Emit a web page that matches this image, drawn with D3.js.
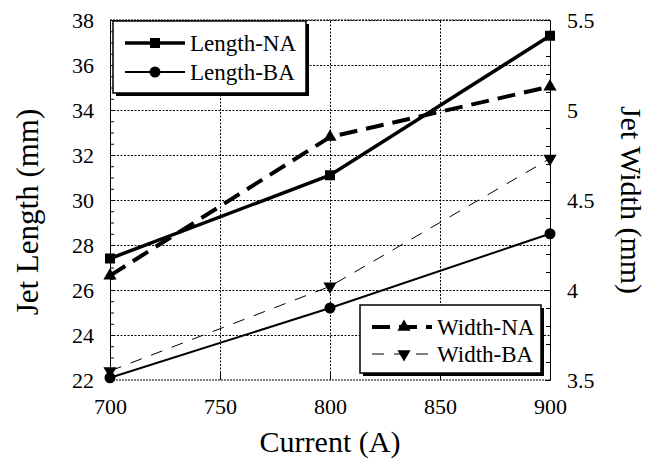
<!DOCTYPE html>
<html>
<head>
<meta charset="utf-8">
<script src="https://cdn.jsdelivr.net/npm/d3@7"></script>
<style>
  body { margin: 0; background: #fff; }
  svg { display: block; }
  svg text { font-family: "Liberation Serif", "Times New Roman", serif; }
</style>
</head>
<body>
<div class="chart-div"></div>
<script>
var width = 649;
var height = 459;

// data
var current = [700, 800, 900];
var lengthNA = [27.4, 31.1, 37.3];
var lengthBA = [22.1, 25.2, 28.5];
var widthNA = [4.08, 4.85, 5.13];
var widthBA = [3.55, 4.02, 4.73];

var xTicks = [700, 750, 800, 850, 900];
var leftTicks = [22, 24, 26, 28, 30, 32, 34, 36, 38];
var rightTicks = [3.5, 4, 4.5, 5, 5.5];

var font = "Liberation Serif, Times New Roman, serif";

var m = { left: 110, right: 550, top: 20, bottom: 380 };

var svg = d3.select("div.chart-div")
    .append("svg")
    .attr("width", width)
    .attr("height", height)

var x = d3.scaleLinear().domain([700, 900]).range([m.left, m.right]);
var yL = d3.scaleLinear().domain([22, 38]).range([m.bottom, m.top]);
var yR = d3.scaleLinear().domain([3.5, 5.5]).range([m.bottom, m.top]);

var plotW = m.right - m.left;
var plotH = m.bottom - m.top;

//----------------------------- grid

var grid = svg.append("g")

grid.append("g")
    .attr("transform", "translate(" + m.left + ",0)")
    .call(d3.axisLeft(yL).tickValues(leftTicks.slice(1)).tickSize(-plotW).tickFormat(""))
    .call(function (g) { g.select(".domain").remove(); })
    .selectAll("line")
    .attr("stroke", "#000")
    .style("stroke-dasharray", "2,1.5")

grid.append("g")
    .attr("transform", "translate(0," + m.bottom + ")")
    .call(d3.axisBottom(x).tickValues([750, 800, 850]).tickSize(-plotH).tickFormat(""))
    .call(function (g) { g.select(".domain").remove(); })
    .selectAll("line")
    .attr("stroke", "#000")
    .style("stroke-dasharray", "2,1.5")

// bottom frame line, dotted like the grid
grid.append("line")
    .attr("x1", m.left).attr("x2", m.right)
    .attr("y1", m.bottom).attr("y2", m.bottom)
    .attr("stroke", "#000")
    .style("stroke-dasharray", "2,1")

//----------------------------- axes

function styleAxis(g) {
    g.attr("font-family", null)
    g.selectAll("text")
        .style("font-family", font)
        .style("font-size", "22px")
        .style("fill", "#000")
    g.selectAll("line").attr("stroke", "#000")
    g.select(".domain").attr("stroke", "#000")
}

// left
svg.append("g")
    .attr("transform", "translate(" + m.left + ",0)")
    .call(d3.axisLeft(yL).tickValues(d3.range(22, 38.01, 0.5)).tickSize(-4).tickFormat("").tickSizeOuter(0))
    .call(styleAxis)
svg.append("g")
    .attr("transform", "translate(" + m.left + ",0)")
    .call(d3.axisLeft(yL).tickValues(leftTicks).tickSize(-4).tickPadding(16).tickSizeOuter(0).tickFormat(d3.format("d")))
    .call(styleAxis)

// right
svg.append("g")
    .attr("transform", "translate(" + m.right + ",0)")
    .call(d3.axisRight(yR).tickValues(d3.range(3.5, 5.501, 0.1)).tickSize(-4).tickFormat("").tickSizeOuter(0))
    .call(styleAxis)
svg.append("g")
    .attr("transform", "translate(" + m.right + ",0)")
    .call(d3.axisRight(yR).tickValues(rightTicks).tickSize(-5).tickPadding(17).tickSizeOuter(0).tickFormat(function (d) { return d3.format("")(d); }))
    .call(styleAxis)

// bottom
var xa = svg.append("g")
    .attr("transform", "translate(0," + m.bottom + ")")
    .call(d3.axisBottom(x).tickValues(xTicks).tickSize(-8).tickPadding(18).tickSizeOuter(0))
    .call(styleAxis)
xa.select(".domain").remove()

// top frame line
svg.append("line")
    .attr("x1", m.left).attr("x2", m.right)
    .attr("y1", m.top).attr("y2", m.top)
    .attr("stroke", "#000")
    .style("stroke-dasharray", "2,1")

//----------------------------- titles

svg.append("text")
    .attr("transform", "translate(27," + 212 + ") rotate(-90)")
    .attr("text-anchor", "middle")
    .attr("dominant-baseline", "central")
    .style("font-size", "31px")
    .text("Jet Length (mm)")

svg.append("text")
    .attr("transform", "translate(631," + 200 + ") rotate(90)")
    .attr("text-anchor", "middle")
    .attr("dominant-baseline", "central")
    .style("font-size", "30px")
    .text("Jet Width (mm)")

svg.append("text")
    .attr("x", (m.left + m.right) / 2)
    .attr("y", 452)
    .attr("text-anchor", "middle")
    .style("font-size", "30px")
    .text("Current (A)")

//----------------------------- series

var series = [
    { name: "Length-NA", vals: lengthNA, y: yL, width: 3.5, dash: null, marker: "square" },
    { name: "Length-BA", vals: lengthBA, y: yL, width: 2, dash: null, marker: "circle" },
    { name: "Width-NA", vals: widthNA, y: yR, width: 4, dash: "18,9", marker: "up" },
    { name: "Width-BA", vals: widthBA, y: yR, width: 1, dash: "12,10", marker: "down" }
];

function drawMarker(g, type, cx, cy) {
    if (type == "square") {
        g.append("rect")
            .attr("x", cx - 5).attr("y", cy - 5)
            .attr("width", 10).attr("height", 10)
            .attr("fill", "#000")
    } else if (type == "circle") {
        g.append("circle")
            .attr("cx", cx).attr("cy", cy).attr("r", 5.5)
            .attr("fill", "#000")
    } else {
        var sym = d3.symbol().type(d3.symbolTriangle).size(75)
        g.append("path")
            .attr("d", sym())
            .attr("transform", "translate(" + cx + "," + cy + ")" + (type == "down" ? " rotate(180)" : ""))
            .attr("fill", "#000")
    }
}

var h = svg.append("g")

series.forEach(function (s) {
    var line = d3.line()
        .x(function (d, i) { return x(current[i]); })
        .y(function (d) { return s.y(d); });

    h.append("path")
        .attr("d", line(s.vals))
        .attr("fill", "none")
        .attr("stroke", "#000")
        .attr("stroke-width", s.width)
        .style("stroke-dasharray", s.dash)

    s.vals.forEach(function (v, i) {
        drawMarker(h, s.marker, x(current[i]), s.y(v));
    })
})

//----------------------------- legends

function legend(x0, y0, w, hgt, items, rowY) {
    var lg = svg.append("g")
    lg.append("rect")
        .attr("x", x0 + 3).attr("y", y0 + 3)
        .attr("width", w).attr("height", hgt)
        .attr("fill", "#000")
    lg.append("rect")
        .attr("x", x0).attr("y", y0)
        .attr("width", w).attr("height", hgt)
        .attr("fill", "#fff")
        .attr("stroke", "#000")
        .attr("stroke-width", 1.5)

    items.forEach(function (s, k) {
        var ly = rowY[k];
        lg.append("line")
            .attr("x1", x0 + 12).attr("x2", x0 + 72)
            .attr("y1", ly).attr("y2", ly)
            .attr("stroke", "#000")
            .attr("stroke-width", s.width)
            .style("stroke-dasharray", s.dash)
        drawMarker(lg, s.marker, x0 + (s.dash ? 44 : 42), ly);
        lg.append("text")
            .attr("x", x0 + 77)
            .attr("y", ly + 8)
            .style("font-size", "23px")
            .text(s.name)
    })
}

legend(113, 21, 193, 72, series.slice(0, 2), [43, 72])
legend(360, 305, 181, 68, series.slice(2, 4), [327, 354])
</script>
</body>
</html>
